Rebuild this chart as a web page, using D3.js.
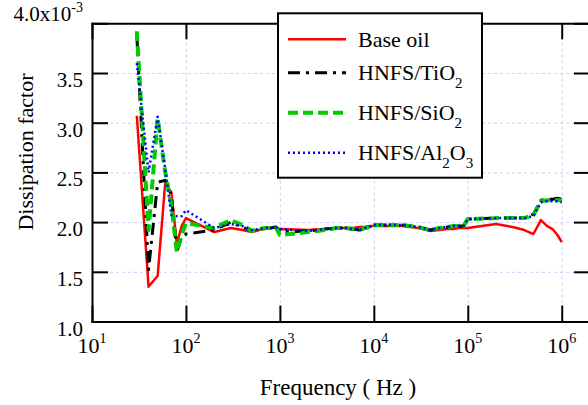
<!DOCTYPE html>
<html>
<head>
<meta charset="utf-8">
<script src="https://cdn.jsdelivr.net/npm/d3@7"></script>
<style>
	body { margin: 0; background: #fff; }
	.grid line { stroke: #c8d2f4; stroke-dasharray: 3,3; stroke-width: 1; }
	.grid path { display: none; }
	.frame line, .frame path { stroke: #000; stroke-width: 2; }
</style>
</head>
<body>
<svg id="chart" width="588" height="405" style="display:block"></svg>
<script>
// frequency points (Hz)
var freq = [30, 40, 50, 60, 70, 80, 90, 100, 200, 300, 400, 500, 600, 700, 800, 900,
	1e3, 2e3, 3e3, 4e3, 5e3, 6e3, 7e3, 8e3, 9e3, 1e4, 2e4, 3e4, 4e4, 5e4, 6e4, 7e4, 8e4, 9e4,
	1e5, 2e5, 3e5, 4e5, 5e5, 6e5, 7e5, 8e5, 9e5, 1e6];

// dissipation factor, in units of 10^-3
var baseOil = [3.07, 1.35, 1.46, 2.38, 2.30, 1.78, 1.96, 2.04, 1.90, 1.94, 1.92, 1.90, 1.92, 1.93, 1.94, 1.95,
	1.93, 1.92, 1.93, 1.94, 1.94, 1.94, 1.95, 1.95, 1.96, 1.96, 1.96, 1.94, 1.91, 1.92, 1.93, 1.93, 1.94, 1.94,
	1.94, 1.98, 1.95, 1.92, 1.88, 2.02, 1.96, 1.93, 1.87, 1.80];
var tio2 = [3.88, 1.52, 2.40, 2.42, 2.27, 1.70, 1.85, 1.88, 1.92, 2.00, 1.95, 1.91, 1.93, 1.94, 1.94, 1.95,
	1.90, 1.91, 1.93, 1.94, 1.94, 1.93, 1.92, 1.94, 1.95, 1.97, 1.97, 1.95, 1.92, 1.94, 1.95, 1.96, 1.96, 1.96,
	2.03, 2.04, 2.04, 2.04, 2.08, 2.22, 2.23, 2.23, 2.24, 2.23];
var sio2 = [3.92, 1.92, 3.04, 2.51, 2.17, 1.70, 1.87, 1.99, 1.94, 2.02, 1.97, 1.91, 1.93, 1.94, 1.94, 1.95,
	1.87, 1.90, 1.92, 1.94, 1.94, 1.93, 1.92, 1.94, 1.95, 1.97, 1.97, 1.95, 1.92, 1.94, 1.95, 1.96, 1.96, 1.96,
	2.03, 2.04, 2.04, 2.04, 2.07, 2.21, 2.22, 2.22, 2.22, 2.22];
var al2o3 = [3.60, 2.50, 3.06, 2.54, 2.07, 2.06, 2.06, 2.12, 1.94, 1.98, 1.96, 1.92, 1.93, 1.94, 1.94, 1.95,
	1.93, 1.91, 1.93, 1.94, 1.94, 1.93, 1.92, 1.94, 1.95, 1.97, 1.97, 1.95, 1.92, 1.94, 1.95, 1.96, 1.96, 1.96,
	2.03, 2.04, 2.04, 2.04, 2.06, 2.20, 2.21, 2.21, 2.21, 2.20];

var xTicks = [1e1, 1e2, 1e3, 1e4, 1e5, 1e6];
var xTickExp = ["1", "2", "3", "4", "5", "6"];
var yTicks = [1.0, 1.5, 2.0, 2.5, 3.0, 3.5, 4.0];

var series = [
	{ name: "Base oil", sub: null, values: baseOil, color: "#ff0000", width: 2.5, dash: null },
	{ name: "HNFS/TiO", sub: [["2", true]], values: tio2, color: "#000000", width: 3, dash: "12,6,3,6" },
	{ name: "HNFS/SiO", sub: [["2", true]], values: sio2, color: "#00cc00", width: 4, dash: "10,5" },
	{ name: "HNFS/Al", sub: [["2", true], ["O", false], ["3", true]], values: al2o3, color: "#0000ff", width: 2.5, dash: "2,3" }
];

var serif = "Liberation Serif, Times New Roman, Times, DejaVu Serif, serif";
var plotLeft = 92, plotRight = 590, plotTop = 23.3, plotBottom = 321.5;

var x = d3.scaleLog().domain([10, 2e6]).range([plotLeft, plotRight]);
var y = d3.scaleLinear().domain([1.0, 4.0]).range([plotBottom, plotTop]);

var svg = d3.select("#chart").attr("font-family", serif);

// grid
svg.append("g")
	.attr("class", "grid")
	.attr("transform", "translate(0," + plotBottom + ")")
	.call(d3.axisBottom(x).tickValues(xTicks).tickSize(-(plotBottom - plotTop)).tickFormat(""));
svg.append("g")
	.attr("class", "grid")
	.attr("transform", "translate(" + plotLeft + ",0)")
	.call(d3.axisLeft(y).tickValues(yTicks).tickSize(-(plotRight - plotLeft)).tickFormat(""));

// lines
var line = d3.line()
	.x(function(d) { return x(d[0]); })
	.y(function(d) { return y(d[1]); });

svg.append("g")
	.attr("class", "lines")
	.selectAll("path")
	.data(series)
	.enter()
	.append("path")
	.attr("d", function(s) { return line(freq.map(function(f, i) { return [f, s.values[i]]; })); })
	.style("fill", "none")
	.style("stroke", function(s) { return s.color; })
	.style("stroke-width", function(s) { return s.width; })
	.style("stroke-dasharray", function(s) { return s.dash; })
	.style("stroke-linejoin", "round");

// frame with inward ticks on all sides
var frame = svg.append("g").attr("class", "frame");
frame.append("g")
	.attr("transform", "translate(0," + plotBottom + ")")
	.call(d3.axisBottom(x).tickValues(xTicks).tickSizeInner(-16).tickSizeOuter(0).tickFormat(""));
frame.append("g")
	.attr("transform", "translate(0," + plotTop + ")")
	.call(d3.axisTop(x).tickValues(xTicks).tickSizeInner(-16).tickSizeOuter(0).tickFormat(""));
frame.append("g")
	.attr("transform", "translate(" + plotLeft + ",0)")
	.call(d3.axisLeft(y).tickValues(yTicks).tickSizeInner(-16).tickSizeOuter(0).tickFormat(""));
frame.append("g")
	.attr("transform", "translate(" + plotRight + ",0)")
	.call(d3.axisRight(y).tickValues(yTicks).tickSizeInner(-16).tickSizeOuter(0).tickFormat(""));
frame.selectAll(".domain").attr("stroke-linecap", "square");

// x tick labels (10^n)
var xl = svg.append("g")
	.selectAll("text")
	.data(xTicks)
	.enter()
	.append("text")
	.attr("font-family", serif)
	.attr("x", function(d) { return x(d); })
	.attr("y", 353)
	.attr("text-anchor", "middle")
	.attr("font-size", 22);
xl.append("tspan").text("10");
xl.append("tspan")
	.attr("dy", -10)
	.attr("font-size", 14)
	.text(function(d, i) { return xTickExp[i]; });

// y tick labels
svg.append("g")
	.selectAll("text")
	.data(yTicks.filter(function(d) { return d < 4; }))
	.enter()
	.append("text")
	.attr("font-family", serif)
	.attr("x", 83)
	.attr("y", function(d) { return y(d) + 14; })
	.attr("text-anchor", "end")
	.attr("font-size", 21)
	.text(function(d) { return d3.format(".1f")(d); });

var topLabel = svg.append("text")
	.attr("font-family", serif)
	.attr("x", 83)
	.attr("y", y(4.0) - 2.5)
	.attr("text-anchor", "end")
	.attr("font-size", 21);
topLabel.append("tspan").text("4.0x10");
topLabel.append("tspan").attr("dy", -9).attr("font-size", 14).text("-3");

// axis titles
svg.append("text")
	.attr("font-family", serif)
	.attr("x", 338)
	.attr("y", 395)
	.attr("text-anchor", "middle")
	.attr("font-size", 23)
	.text("Frequency ( Hz )");

svg.append("text")
	.attr("font-family", serif)
	.attr("transform", "translate(33,152) rotate(-90)")
	.attr("text-anchor", "middle")
	.attr("font-size", 22)
	.text("Dissipation factor");

// legend
var legendRows = [39.3, 72.7, 112.7, 152.7];
var legend = svg.append("g").attr("class", "legend");
legend.append("rect")
	.attr("x", 278).attr("y", 13.3)
	.attr("width", 204).attr("height", 164.4)
	.style("fill", "#fff")
	.style("stroke", "#000")
	.style("stroke-width", 2);

var items = legend.selectAll("g.item")
	.data(series)
	.enter()
	.append("g")
	.attr("class", "item")
	.attr("transform", function(d, i) { return "translate(0," + legendRows[i] + ")"; });

items.append("line")
	.attr("x1", 288).attr("x2", 346)
	.style("stroke", function(s) { return s.color; })
	.style("stroke-width", function(s) { return s.width; })
	.style("stroke-dasharray", function(s) { return s.dash; });

var labels = items.append("text")
	.attr("font-family", serif)
	.attr("x", 358)
	.attr("y", 7.5)
	.attr("font-size", 22);
labels.append("tspan").text(function(s) { return s.name; });
labels.each(function(s) {
	if (!s.sub) return;
	var t = d3.select(this);
	var low = false;
	s.sub.forEach(function(p) {
		var dy = 0;
		if (p[1] && !low) { dy = 8; low = true; }
		else if (!p[1] && low) { dy = -8; low = false; }
		t.append("tspan")
			.attr("dy", dy)
			.attr("font-size", p[1] ? 15 : 22)
			.text(p[0]);
	});
});
</script>
</body>
</html>
